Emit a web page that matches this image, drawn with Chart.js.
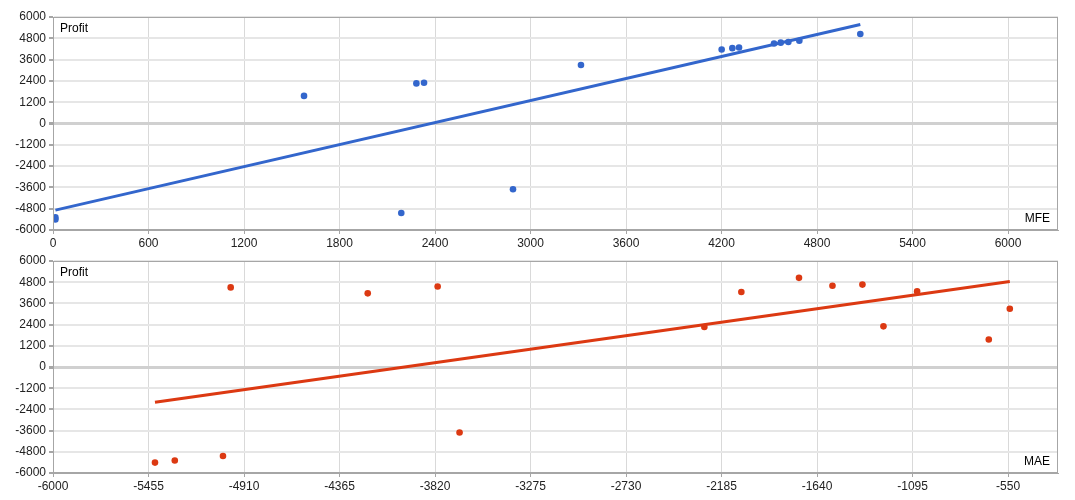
<!DOCTYPE html>
<html>
<head>
<meta charset="utf-8">
<script src="https://cdn.jsdelivr.net/npm/chart.js@4.4.1/dist/chart.umd.min.js"></script>
<style>
html,body{margin:0;padding:0;background:#fff;}
#wrap{position:relative;width:1075px;height:500px;}
.c{position:absolute;left:0;width:1075px;height:250px;}
#c1{top:0;}
#c2{top:250px;}
</style>
</head>
<body>
<div id="wrap">
<div class="c" id="c1"><canvas id="top"></canvas></div>
<div class="c" id="c2"><canvas id="bot"></canvas></div>
</div>
<script>
// Per-trade values
const mfe    = [15, 15, 2188, 2890, 1577, 2283, 2331, 3317, 4201, 4268, 4310, 4530, 4572, 4620, 4689, 5072];
const mae    = [-5305, -5418, -5030, -3680, -660, -2283, -1261, -540, -4204, -2072, -1069, -4986, -3805, -1552, -1381, -1743];
const profit = [-5290, -5410, -5040, -3705, 1555, 2260, 2300, 3295, 4170, 4245, 4280, 4505, 4555, 4595, 4665, 5045];

// Trend line endpoints
const mfeTrendX = [15, 5072];
const mfeTrendY = [-4882, 5576];
const maeTrendX = [-5418, -540];
const maeTrendY = [-1992, 4839];

// Tick values
const yTicks = [-6000, -4800, -3600, -2400, -1200, 0, 1200, 2400, 3600, 4800, 6000];
const mfeTicks = [0, 600, 1200, 1800, 2400, 3000, 3600, 4200, 4800, 5400, 6000];
const maeTicks = [-6000, -5455, -4910, -4365, -3820, -3275, -2730, -2185, -1640, -1095, -550];

const FONT = "'Liberation Sans', Arial, sans-serif";

const boxPlugin = {
  id: 'box',
  afterDraw(chart, args, opts) {
    const a = chart.chartArea, ctx = chart.ctx;
    ctx.save();
    ctx.strokeStyle = '#a6a6a6';
    ctx.lineWidth = 1;
    ctx.strokeRect(Math.round(a.left) + 0.5, Math.round(a.top) + 0.5, Math.round(a.right - a.left) - 1, Math.round(a.bottom - a.top) - 1);
    ctx.fillStyle = '#000';
    ctx.font = '12px ' + FONT;
    ctx.textBaseline = 'middle';
    ctx.textAlign = 'left';
    ctx.fillText(opts.yTitle, a.left + 7, a.top + 12);
    ctx.textAlign = 'right';
    ctx.fillText(opts.xTitle, a.right - 8, a.bottom - 11);
    ctx.restore();
  }
};

function makeChart(id, xs, ys, tx, ty, color, xMin, xMax, xTicks, padTop, xAxisH, xTitle) {
  const pts = xs.map((x, i) => ({x: x, y: ys[i]}));
  const trend = tx.map((x, i) => ({x: x, y: ty[i]}));
  return new Chart(document.getElementById(id), {
    type: 'scatter',
    data: {
      datasets: [
        {data: trend, type: 'line', showLine: true, borderColor: color, borderWidth: 3, pointRadius: 0, fill: false, order: 2},
        {data: pts, backgroundColor: color, borderColor: color, pointRadius: 3.3, pointBorderWidth: 0, order: 1}
      ]
    },
    options: {
      responsive: true,
      maintainAspectRatio: false,
      animation: false,
      layout: {padding: {top: padTop, right: 17, left: 0, bottom: 0}},
      plugins: {
        legend: {display: false},
        tooltip: {enabled: false},
        box: {xTitle: xTitle, yTitle: 'Profit'}
      },
      scales: {
        x: {
          type: 'linear', min: xMin, max: xMax,
          afterBuildTicks: s => { s.ticks = xTicks.map(v => ({value: v})); },
          afterFit: s => { s.height = xAxisH; },
          grid: {color: '#d9d9d9', lineWidth: 1, drawTicks: true, tickLength: 4, tickColor: '#a6a6a6'},
          border: {color: '#a6a6a6'},
          ticks: {color: '#222', font: {size: 12, family: FONT}, padding: 2, maxRotation: 0, autoSkip: false, callback: v => String(v)}
        },
        y: {
          type: 'linear', min: -6000, max: 6000,
          afterBuildTicks: s => { s.ticks = yTicks.map(v => ({value: v})); },
          afterFit: s => { s.width = 53; },
          grid: {
            color: ctx => (ctx.tick && ctx.tick.value === 0) ? '#d0d0d0' : '#e6e6e6',
            lineWidth: ctx => (ctx.tick && ctx.tick.value === 0) ? 3 : 2,
            drawTicks: true, tickLength: 4, tickColor: '#a6a6a6'
          },
          border: {color: '#a6a6a6'},
          ticks: {color: '#222', font: {size: 12, family: FONT}, padding: 3, autoSkip: false, callback: v => String(v)}
        }
      }
    },
    plugins: [boxPlugin]
  });
}

makeChart('top', mfe, profit, mfeTrendX, mfeTrendY, '#3366cc', 0, 6314, mfeTicks, 17, 20, 'MFE');
makeChart('bot', mae, profit, maeTrendX, maeTrendY, '#dc3912', -6000, -265, maeTicks, 11, 27, 'MAE');
</script>
</body>
</html>
